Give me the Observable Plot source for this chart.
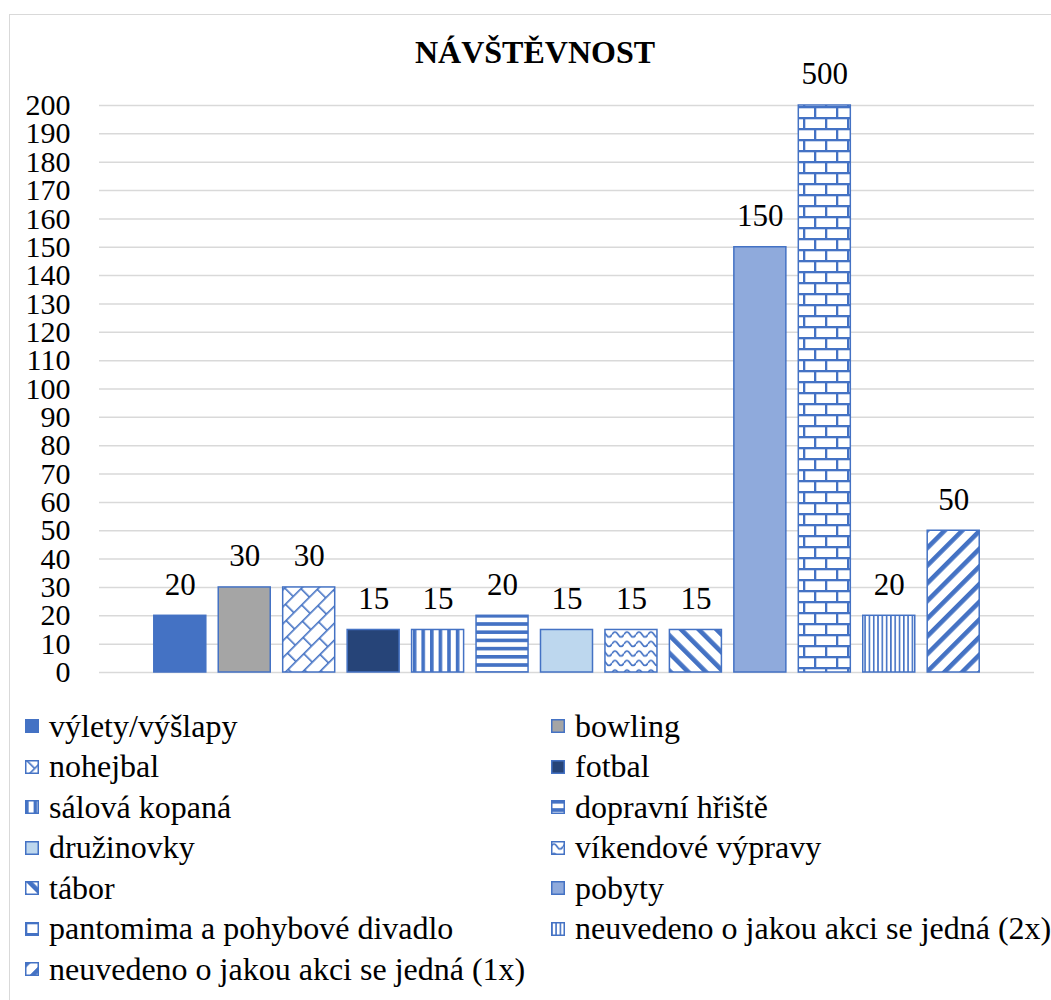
<!DOCTYPE html>
<html>
<head>
<meta charset="utf-8">
<script src="https://cdn.jsdelivr.net/npm/d3@7"></script>
<script src="https://cdn.jsdelivr.net/npm/@observablehq/plot@0.6"></script>
<style>
  html, body { margin: 0; padding: 0; background: #fff; }
  body { width: 1051px; height: 1000px; position: relative; overflow: hidden;
         font-family: "Liberation Serif", "Times New Roman", serif; color: #000; }
  #frame { position: absolute; left: 9px; top: 14px; width: 1060px; height: 1060px;
           border: 1.5px solid #d9d9d9; box-sizing: border-box; }
  #title { position: absolute; left: 0; width: 1070px; top: 30px; text-align: center;
           font-weight: bold; font-size: 32px; line-height: 44px; }
  #chart { position: absolute; left: 0; top: 40px; }
  #legend { position: absolute; left: 25px; top: 706px; width: 1026px;
            display: grid; grid-template-columns: 526px 500px; }
  .item { display: flex; align-items: center; height: 40.5px; font-size: 32px; white-space: nowrap;
          font-family: "Liberation Serif", "Times New Roman", serif; }
  .item svg { margin-right: 10px; flex: none; }
</style>
</head>
<body>
<svg width="0" height="0" style="position:absolute">
  <defs>
    <pattern id="p-diagbrick" patternUnits="userSpaceOnUse" width="22" height="24" patternTransform="rotate(-45)">
      <rect width="22" height="24" fill="#fff"/>
      <rect x="0" y="0" width="22" height="1.6" fill="#4472C4"/>
      <rect x="0" y="12" width="22" height="1.6" fill="#4472C4"/>
      <rect x="0" y="0" width="1.6" height="12" fill="#4472C4"/>
      <rect x="11" y="12" width="1.6" height="12" fill="#4472C4"/>
    </pattern>
    <pattern id="p-vwide" patternUnits="userSpaceOnUse" width="8.6" height="10">
      <rect width="8.6" height="10" fill="#fff"/>
      <rect x="0" width="3.6" height="10" fill="#4472C4"/>
    </pattern>
    <pattern id="p-hwide" patternUnits="userSpaceOnUse" width="10" height="8.2">
      <rect width="10" height="8.2" fill="#fff"/>
      <rect y="0" width="10" height="3.6" fill="#4472C4"/>
    </pattern>
    <pattern id="p-wave" patternUnits="userSpaceOnUse" width="12" height="9.5">
      <rect width="12" height="9.5" fill="#fff"/>
      <path d="M0 5.5 Q3 0.5 6 5.5 T12 5.5" fill="none" stroke="#4472C4" stroke-width="1.7"/>
    </pattern>
    <pattern id="p-ddown" patternUnits="userSpaceOnUse" width="12.5" height="12.5" patternTransform="rotate(-45)">
      <rect width="12.5" height="12.5" fill="#fff"/>
      <rect x="0" width="4.6" height="12.5" fill="#4472C4"/>
    </pattern>
    <pattern id="p-hbrick" patternUnits="userSpaceOnUse" width="22" height="22">
      <rect width="22" height="22" fill="#fff"/>
      <rect x="0" y="0" width="22" height="2.3" fill="#4472C4"/>
      <rect x="0" y="11" width="22" height="2.3" fill="#4472C4"/>
      <rect x="0" y="0" width="2.3" height="11" fill="#4472C4"/>
      <rect x="11" y="11" width="2.3" height="11" fill="#4472C4"/>
    </pattern>
    <pattern id="p-vnarrow" patternUnits="userSpaceOnUse" width="4.3" height="10">
      <rect width="4.3" height="10" fill="#fff"/>
      <rect x="0" width="1.6" height="10" fill="#4472C4"/>
    </pattern>
    <pattern id="p-dup" patternUnits="userSpaceOnUse" width="12.5" height="12.5" patternTransform="rotate(45)">
      <rect width="12.5" height="12.5" fill="#fff"/>
      <rect x="0" width="4.6" height="12.5" fill="#4472C4"/>
    </pattern>
  </defs>
</svg>
<div id="frame"></div>
<div id="title">NÁVŠTĚVNOST</div>
<div id="chart"></div>
<div id="legend"></div>
<script>
// ---- data ----
const categories = [
  "výlety/výšlapy",
  "bowling",
  "nohejbal",
  "fotbal",
  "sálová kopaná",
  "dopravní hřiště",
  "družinovky",
  "víkendové výpravy",
  "tábor",
  "pobyty",
  "pantomima a pohybové divadlo",
  "neuvedeno o jakou akci se jedná (2x)",
  "neuvedeno o jakou akci se jedná (1x)"
];
const values = [20, 30, 30, 15, 15, 20, 15, 15, 15, 150, 500, 20, 50];
const yTicks = [0, 10, 20, 30, 40, 50, 60, 70, 80, 90, 100, 110, 120, 130, 140, 150, 160, 170, 180, 190, 200];
const yDomain = [0, 200];

// ---- styles (fills per category) ----
const fills = [
  "#4472C4",
  "#A5A5A5",
  "url(#p-diagbrick)",
  "#264478",
  "url(#p-vwide)",
  "url(#p-hwide)",
  "#BDD7EE",
  "url(#p-wave)",
  "url(#p-ddown)",
  "#8FAADC",
  "url(#p-hbrick)",
  "url(#p-vnarrow)",
  "url(#p-dup)"
];
const outline = "#4472C4";
const font = '"Liberation Serif", "Times New Roman", serif';

const data = categories.map((c, i) => ({category: c, value: values[i], fill: fills[i]}));

const chart = Plot.plot({
  width: 1051,
  height: 667,
  marginTop: 65,
  marginBottom: 35,
  marginLeft: 99,
  marginRight: 17,
  style: {fontFamily: font, fontSize: "30px", color: "#000", background: "transparent"},
  x: {domain: categories, paddingInner: 0.193, paddingOuter: 0.85, round: false, axis: null},
  y: {domain: yDomain, clamp: true, axis: null},
  color: {type: "identity"},
  marks: [
    Plot.gridY(yTicks, {stroke: "#d9d9d9", strokeOpacity: 1, strokeWidth: 1.5}),
    Plot.barY(data, {x: "category", y: "value", fill: "fill", stroke: outline, strokeWidth: 1.5}),
    Plot.text(data, {x: "category", y: "value", text: d => String(d.value), dy: -31,
                     fontSize: 31, fill: "#000", fontFamily: font}),
    Plot.axisY(yTicks, {tickSize: 0, tickPadding: 29, fontSize: 30, label: null,
                        tickFormat: d => String(d), fill: "#000", fontFamily: font})
  ]
});
document.getElementById("chart").appendChild(chart);

// ---- legend ----
const legend = d3.select("#legend");
categories.forEach((c, i) => {
  const item = legend.append("div").attr("class", "item");
  const sw = item.append("svg").attr("width", 14).attr("height", 14);
  sw.append("rect").attr("x", 0.75).attr("y", 0.75).attr("width", 12.5).attr("height", 12.5)
    .attr("fill", fills[i]).attr("stroke", outline).attr("stroke-width", 1.5);
  item.append("span").text(c);
});
</script>
</body>
</html>
